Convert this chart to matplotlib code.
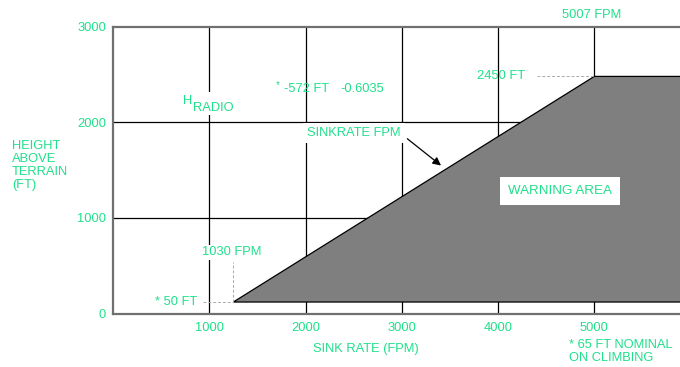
import matplotlib
matplotlib.use("Agg")
import matplotlib.pyplot as plt
from matplotlib.patches import Polygon, Rectangle

plt.rcParams['font.family'] = ['Liberation Sans', 'DejaVu Sans']

# Data
x_ticks = [1000, 2000, 3000, 4000, 5000]
y_ticks = [0, 1000, 2000, 3000]
x_grid = [1000, 2000, 3000, 4000, 5000]
y_grid = [1000, 2000]
area_x = [1250, 5000, 5900, 5900]
area_y = [120, 2480, 2480, 120]
x_lim = (0, 5890)
y_lim = (0, 3000)

GREEN = '#1fe08a'
GRAY = '#7f7f7f'
fs = 9.3

fig = plt.figure(figsize=(6.8, 3.67), dpi=100)
ax = fig.add_axes([113/680, (367-313.5)/367, 1-113/680, (313.5-26.7)/367])
ax.set_xlim(*x_lim)
ax.set_ylim(*y_lim)

for xv in x_grid:
    ax.axvline(xv, color='black', lw=0.9, zorder=1)
for yv in y_grid:
    ax.axhline(yv, color='black', lw=0.9, zorder=1)

poly = Polygon(list(zip(area_x, area_y)), closed=True, facecolor=GRAY,
               edgecolor='black', lw=0.9, zorder=2)
ax.add_patch(poly)

for s in ['left', 'top', 'bottom']:
    ax.spines[s].set_color('#707070')
    ax.spines[s].set_linewidth(1.6)
ax.spines['right'].set_visible(False)

ax.set_xticks(x_ticks)
ax.set_xticklabels([str(v) for v in x_ticks])
ax.set_yticks(y_ticks)
ax.set_yticklabels([str(v) for v in y_ticks])
ax.tick_params(length=0, colors=GREEN, labelsize=fs)
ax.tick_params(axis='x', pad=6)
ax.tick_params(axis='y', pad=5)

# dashed reference lines
dash = dict(ls=(0, (3, 2)), color='#aaaaaa', lw=0.7, zorder=3)
ax.plot([930, area_x[0]], [area_y[0], area_y[0]], **dash)
ax.plot([area_x[0], area_x[0]], [area_y[0], 540], **dash)
ax.plot([4400, area_x[1]], [area_y[1], area_y[1]], **dash)

ax.text(880, area_y[0], '* 50 FT', color=GREEN, fontsize=fs, ha='right', va='center', zorder=4)
ax.text(area_x[0] - 20, 640, '1030 FPM', color=GREEN, fontsize=fs, ha='center', va='center', zorder=4,
        bbox=dict(facecolor='white', edgecolor='none', pad=1))
ax.text(4280, area_y[1], '2450 FT', color=GREEN, fontsize=fs, ha='right', va='center', zorder=4)
ax.text(4970, 3120, '5007 FPM', color=GREEN, fontsize=fs, ha='center', va='center', clip_on=False)

# H RADIO label with white mask over the grid line
ax.add_patch(Rectangle((960, 2080), 90, 240, facecolor='white', edgecolor='none', zorder=3))
ax.text(725, 2225, 'H', color=GREEN, fontsize=fs, ha='left', va='center', zorder=4)
ax.text(830, 2150, 'RADIO', color=GREEN, fontsize=fs, ha='left', va='center', zorder=4)

ax.text(1690, 2390, '*', color=GREEN, fontsize=7, ha='left', va='center', zorder=4)
ax.text(1780, 2350, '-572 FT', color=GREEN, fontsize=fs, ha='left', va='center', zorder=4)
ax.text(2360, 2350, '-0.6035', color=GREEN, fontsize=fs, ha='left', va='center', zorder=4)

ax.text(2505, 1890, 'SINKRATE FPM', color=GREEN, fontsize=fs, ha='center', va='center', zorder=4,
        bbox=dict(facecolor='white', edgecolor='none', pad=3))
ax.annotate('', xy=(3430, 1530), xytext=(3035, 1846),
            arrowprops=dict(arrowstyle='-|>', color='black', lw=0.9, mutation_scale=12), zorder=5)

ax.text(4645, 1280, 'WARNING AREA', color=GREEN, fontsize=9.6, ha='center', va='center', zorder=4,
        bbox=dict(boxstyle='square,pad=0.62', facecolor='white', edgecolor='none'))

fig.text(313/680, 1 - 349/367, 'SINK RATE (FPM)', color=GREEN, fontsize=fs, ha='left', va='center')
fig.text(12/680, 1 - 140/367, 'HEIGHT\nABOVE\nTERRAIN\n(FT)', color=GREEN, fontsize=fs, ha='left', va='top',
         linespacing=1.1)
fig.text(569/680, 1 - 351.5/367, '* 65 FT NOMINAL\nON CLIMBING', color=GREEN, fontsize=fs, ha='left', va='center',
         linespacing=1.07)

fig.savefig('out.png', dpi=100)
